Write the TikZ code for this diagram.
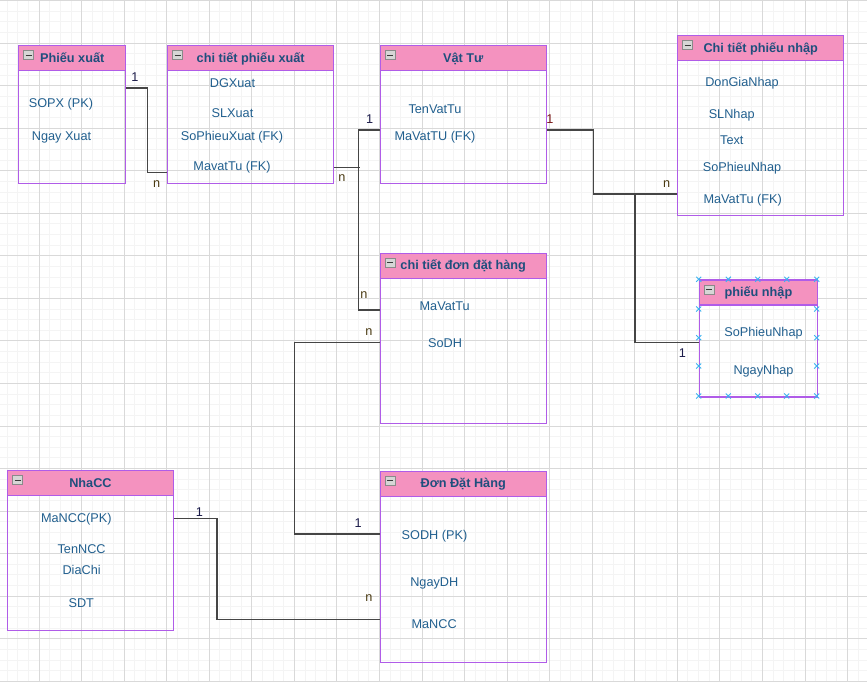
\documentclass[tikz,border=0pt]{standalone}
\usepackage{fontspec}
\setmainfont{Liberation Sans}
\definecolor{headpink}{HTML}{F492BF}
\definecolor{entborder}{HTML}{B05CE8}
\definecolor{titlecol}{HTML}{1F4F7D}
\definecolor{attrcol}{HTML}{22608F}
\definecolor{conncol}{HTML}{454545}
\definecolor{gridminor}{HTML}{F4F4F4}
\definecolor{gridmajor}{HTML}{D9D9D9}
\definecolor{handleblue}{HTML}{3BB3F0}
\definecolor{iconfill}{HTML}{D6D6D6}
\definecolor{iconline}{HTML}{8A8A8A}
\definecolor{icondark}{HTML}{3A3A3A}
\definecolor{cardone}{HTML}{1C1C4A}
\definecolor{cardmany}{HTML}{4A3A12}
\definecolor{cardred}{HTML}{7A1A1A}
\begin{document}
\begin{tikzpicture}[
    x=1pt, y=-1pt,
    every node/.style={font=\fontsize{12.7}{15}\selectfont, text=attrcol, inner sep=0pt},
    entity/.style={rectangle, draw=entborder, line width=1.4pt, anchor=north west},
    header/.style={rectangle, draw=entborder, fill=headpink, line width=1.4pt, anchor=north west,
      minimum height=25pt, text height=10pt, text depth=2pt, text=titlecol,
      font=\fontsize{12.7}{15}\selectfont\bfseries,
      path picture={
        \draw[draw=iconline, fill=iconfill, line width=0.6pt] ([xshift=5pt,yshift=-5pt]path picture bounding box.north west) rectangle ++(10pt,-9pt);
        \draw[draw=icondark, line width=1.1pt] ([xshift=7pt,yshift=-9.5pt]path picture bounding box.north west) -- ++(6pt,0pt);
      }},
    attr/.style={anchor=base},
    card/.style={anchor=base, text=cardone},
    cardn/.style={anchor=base, text=cardmany},
    conn/.style={draw=conncol, line width=1.3pt},
    handle/.style={draw=handleblue, line width=0.9pt}
  ]
  \useasboundingbox (0,0) rectangle (867,681);
  \fill[white] (0,0) rectangle (867,681);
  % background grid
  \begin{scope}[shift={(-3.55,0.45)}]
    \draw[gridminor, line width=0.8pt, step=10.6375pt] (-20pt,-720pt) grid (900pt,20pt);
    \draw[gridmajor, line width=0.8pt, step=42.55pt] (-20pt,-720pt) grid (900pt,20pt);
  \end{scope}

  % Phieu xuat
  \node[entity, minimum width=107pt, minimum height=138pt] (px) at (18,45) {};
  \node[header, minimum width=107pt] (pxh) at (px.north west) {Phiếu xuất};
  \node[attr] (px1) at (61,107.5) {SOPX (PK)};
  \node[attr] (px2) at (61.5,140.5) {Ngay Xuat};

  % chi tiet phieu xuat
  \node[entity, minimum width=166pt, minimum height=138pt] (ctpx) at (167,45) {};
  \node[header, minimum width=166pt] (ctpxh) at (ctpx.north west) {chi tiết phiếu xuất};
  \node[attr] (ctpx1) at (232.5,87.2) {DGXuat};
  \node[attr] (ctpx2) at (232.5,117.5) {SLXuat};
  \node[attr] (ctpx3) at (232,140.5) {SoPhieuXuat (FK)};
  \node[attr] (ctpx4) at (232,170.5) {MavatTu (FK)};

  % Vat Tu
  \node[entity, minimum width=166pt, minimum height=138pt] (vt) at (379.5,45) {};
  \node[header, minimum width=166pt] (vth) at (vt.north west) {Vật Tư};
  \node[attr] (vt1) at (435,113.5) {TenVatTu};
  \node[attr] (vt2) at (435,140.5) {MaVatTU (FK)};

  % Chi tiet phieu nhap
  \node[entity, minimum width=166pt, minimum height=180pt] (ctpn) at (677,35) {};
  \node[header, minimum width=166pt] (ctpnh) at (ctpn.north west) {Chi tiết phiếu nhập};
  \node[attr] (ctpn1) at (742,86.2) {DonGiaNhap};
  \node[attr] (ctpn2) at (731.7,118.8) {SLNhap};
  \node[attr] (ctpn3) at (731.8,144.5) {Text};
  \node[attr] (ctpn4) at (742,171.2) {SoPhieuNhap};
  \node[attr] (ctpn5) at (742.7,203.8) {MaVatTu (FK)};

  % chi tiet don dat hang
  \node[entity, minimum width=166pt, minimum height=170pt] (ctddh) at (379.5,252.5) {};
  \node[header, minimum width=166pt] (ctddhh) at (ctddh.north west) {chi tiết đơn đặt hàng};
  \node[attr] (ctddh1) at (444.7,310.2) {MaVatTu};
  \node[attr] (ctddh2) at (445,347.2) {SoDH};

  % phieu nhap
  \node[entity, minimum width=118pt, minimum height=117pt] (pn) at (698.7,279.3) {};
  \node[header, minimum width=118pt] (pnh) at (pn.north west) {phiếu nhập};
  \node[attr] (pn1) at (763.5,336.2) {SoPhieuNhap};
  \node[attr] (pn2) at (763.5,374.5) {NgayNhap};

  % NhaCC
  \node[entity, minimum width=165.5pt, minimum height=160pt] (ncc) at (7,470) {};
  \node[header, minimum width=165.5pt] (ncch) at (ncc.north west) {NhaCC};
  \node[attr] (ncc1) at (76.3,522.8) {MaNCC(PK)};
  \node[attr] (ncc2) at (81.6,553.8) {TenNCC};
  \node[attr] (ncc3) at (81.6,574.5) {DiaChi};
  \node[attr] (ncc4) at (81.3,607.8) {SDT};

  % Don Dat Hang
  \node[entity, minimum width=166pt, minimum height=191pt] (ddh) at (379.5,470.5) {};
  \node[header, minimum width=166pt] (ddhh) at (ddh.north west) {Đơn Đặt Hàng};
  \node[attr] (ddh1) at (434.5,539.5) {SODH (PK)};
  \node[attr] (ddh2) at (434.3,586.2) {NgayDH};
  \node[attr] (ddh3) at (434.1,628.5) {MaNCC};

  % selection handles
  \foreach \hx in {698.7,728.3,757.7,786.7,816.7}
    \foreach \hy in {279.3,396}
      \draw[handle] (\hx,\hy) +(-2.5,-2.5) -- +(2.5,2.5) +(-2.5,2.5) -- +(2.5,-2.5);
  \foreach \hx in {698.7,816.7}
    \foreach \hy in {309,337.7,366}
      \draw[handle] (\hx,\hy) +(-2.5,-2.5) -- +(2.5,2.5) +(-2.5,2.5) -- +(2.5,-2.5);

  % relationships
  \draw[conn] ([yshift=-43pt]px.north east) -- ++(21pt,0) |- ([yshift=-127.7pt]ctpx.north west);
  \draw[conn] ([yshift=-85pt]vt.north west) -- ++(-21.2pt,0) |- ([yshift=-57.5pt]ctddh.north west);
  \draw[conn] ([yshift=-122.7pt]ctpx.north east) -- ++(25.3pt,0);
  \draw[conn] ([yshift=-85pt]vt.north east) -- ++(46.8pt,0) |- ([yshift=-159pt]ctpn.north west);
  \draw[conn] ([yshift=-159pt]ctpn.north west) -- ++(-42pt,0) |- ([yshift=-63.4pt]pn.north west);
  \draw[conn] ([yshift=-90.2pt]ctddh.north west) -- ++(-84.9pt,0) |- ([yshift=-63.5pt]ddh.north west);
  \draw[conn] ([yshift=-48.3pt]ncc.north east) -- ++(43pt,0) |- ([yshift=-148.8pt]ddh.north west);

  % cardinalities
  \node[card] (k1) at (135,81.2) {1};
  \node[cardn] (k2) at (156.7,187.3) {n};
  \node[cardn] (k3) at (342,181.3) {n};
  \node[card] (k4) at (369.7,123.5) {1};
  \node[cardn] (k5) at (363.8,298.3) {n};
  \node[card, text=cardred] (k6) at (550,123.8) {1};
  \node[cardn] (k7) at (666.7,187.3) {n};
  \node[card] (k8) at (682.3,357.8) {1};
  \node[cardn] (k9) at (368.9,335) {n};
  \node[card] (k10) at (358.2,527.8) {1};
  \node[card] (k11) at (199.3,516.8) {1};
  \node[cardn] (k12) at (369,601) {n};
\end{tikzpicture}
\end{document}
